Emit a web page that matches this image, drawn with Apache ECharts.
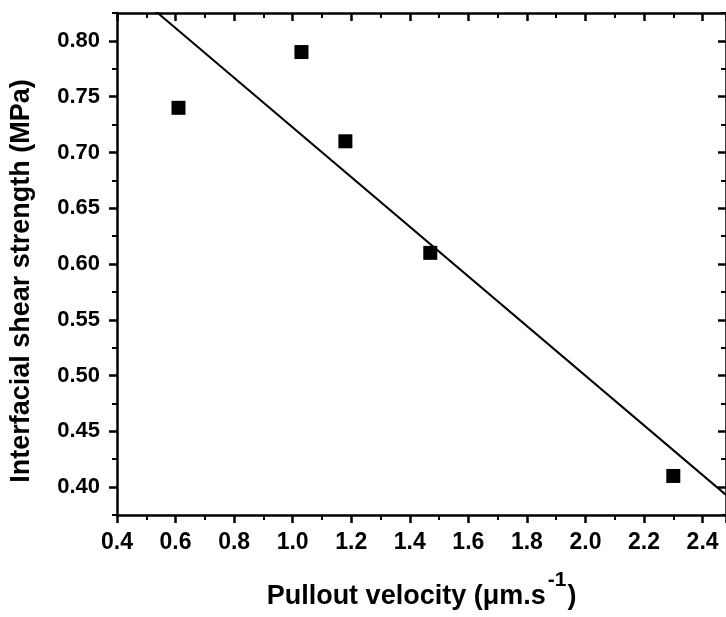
<!DOCTYPE html>
<html>
<head>
<meta charset="utf-8">
<script src="https://cdn.jsdelivr.net/npm/echarts@6/dist/echarts.min.js"></script>
<style>
  html, body { margin: 0; padding: 0; background: #fff; }
  #main { width: 726px; height: 617px; }
</style>
</head>
<body>
<div id="main"></div>
<script>
// measured points
const velocity = [0.61, 1.03, 1.18, 1.47, 2.30];
const shearStrength = [0.74, 0.79, 0.71, 0.61, 0.41];
// linear fit line, read at the two ends of the x range
const fitX = [0.40, 2.48];
const fitY = [0.856, 0.393];
// y tick values
const yMajor = [0.40, 0.45, 0.50, 0.55, 0.60, 0.65, 0.70, 0.75, 0.80];
const yMinor = [0.375, 0.425, 0.475, 0.525, 0.575, 0.625, 0.675, 0.725, 0.775, 0.825];

const FONT = 'Liberation Sans, Arial, sans-serif';

const chart = echarts.init(document.getElementById('main'));

const axisLine = { show: true, lineStyle: { color: '#000', width: 2.5 } };
const majorTick = (inside, vals) => ({ show: true, inside: inside, length: 8, customValues: vals, lineStyle: { color: '#000', width: 2.5 } });
const minorTickY = (inside) => ({ show: true, inside: inside, length: 5, customValues: yMinor, lineStyle: { color: '#000', width: 2 } });

const xBase = {
  type: 'value',
  min: 0.4,
  max: 2.48,
  interval: 0.2,
  splitLine: { show: false },
  axisLine: axisLine,
  minorTick: { show: true, splitNumber: 2, length: 5, lineStyle: { color: '#000', width: 2 } }
};

const yBase = {
  type: 'value',
  min: 0.375,
  max: 0.825,
  splitLine: { show: false }
};

const option = {
  backgroundColor: '#fff',
  animation: false,
  grid: { left: 117, top: 13, right: -2, bottom: 102, containLabel: false },
  xAxis: [
    Object.assign({}, xBase, {
      position: 'bottom',
      name: '{m|Pullout velocity (\u03bcm.s}{sup|-1}{m|)}',
      nameLocation: 'middle',
      nameGap: 55,
      nameTextStyle: {
        rich: {
          m: { fontFamily: FONT, fontWeight: 'bold', fontSize: 27, color: '#000', verticalAlign: 'bottom' },
          sup: { fontFamily: FONT, fontWeight: 'bold', fontSize: 21, color: '#000', verticalAlign: 'top', padding: [0, 1, 19, 2] }
        }
      },
      axisTick: { show: true, inside: false, length: 8, lineStyle: { color: '#000', width: 2.5 } },
      axisLabel: {
        fontFamily: FONT, fontWeight: 'bold', fontSize: 23, color: '#000', margin: 16,
        formatter: v => v.toFixed(1)
      }
    }),
    Object.assign({}, xBase, {
      position: 'top',
      axisTick: { show: true, inside: true, length: 8, lineStyle: { color: '#000', width: 2.5 } },
      axisLabel: { show: false }
    })
  ],
  yAxis: [
    Object.assign({}, yBase, {
      position: 'left',
      name: 'Interfacial shear strength (MPa)',
      nameLocation: 'middle',
      nameGap: 82,
      nameTextStyle: { fontFamily: FONT, fontWeight: 'bold', fontSize: 27, color: '#000', padding: [0, 34, 0, 0] },
      axisLine: axisLine,
      axisTick: majorTick(false, yMajor),
      axisLabel: {
        customValues: yMajor,
        fontFamily: FONT, fontWeight: 'bold', fontSize: 22, color: '#000', margin: 17,
        formatter: v => v.toFixed(2)
      }
    }),
    Object.assign({}, yBase, {
      position: 'left',
      axisLine: { show: false },
      axisTick: minorTickY(false),
      axisLabel: { show: false }
    }),
    Object.assign({}, yBase, {
      position: 'right',
      axisLine: axisLine,
      axisTick: majorTick(true, yMajor),
      axisLabel: { show: false }
    }),
    Object.assign({}, yBase, {
      position: 'right',
      axisLine: { show: false },
      axisTick: minorTickY(true),
      axisLabel: { show: false }
    })
  ],
  series: [
    {
      name: 'fit',
      type: 'line',
      data: fitX.map((x, i) => [x, fitY[i]]),
      symbol: 'none',
      clip: true,
      lineStyle: { color: '#000', width: 2 },
      z: 2
    },
    {
      name: 'IFSS',
      type: 'scatter',
      data: velocity.map((x, i) => [x, shearStrength[i]]),
      symbol: 'rect',
      symbolSize: 14,
      itemStyle: { color: '#000', opacity: 1 },
      z: 3
    }
  ]
};

chart.setOption(option);
</script>
</body>
</html>
